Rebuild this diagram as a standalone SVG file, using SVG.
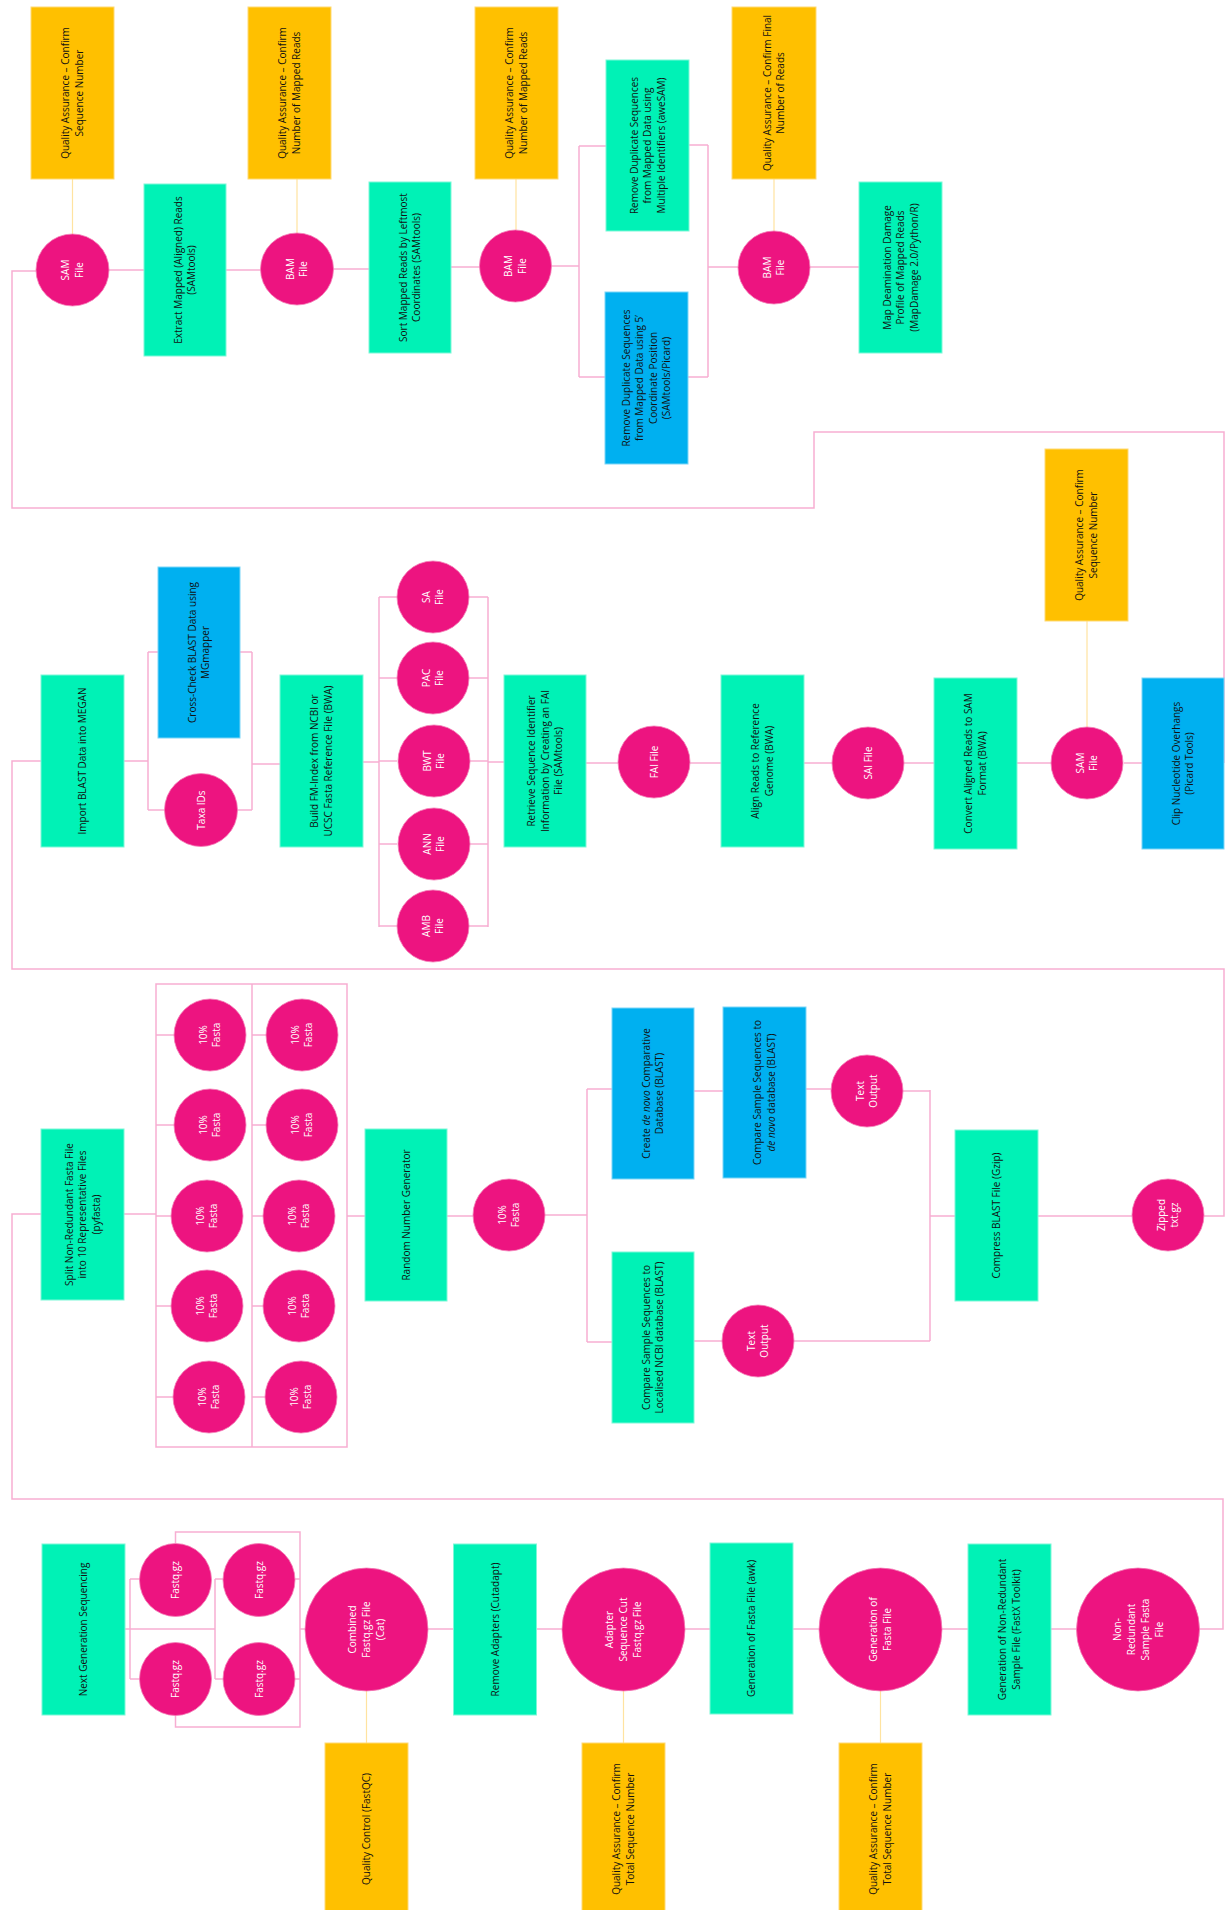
<svg xmlns="http://www.w3.org/2000/svg" width="1226" height="1910" viewBox="0 0 1226 1910">
<style>
.g{fill:#00F2B6;stroke:#7CF8D8;stroke-width:1}
.b{fill:#00B0F0;stroke:#7DD6F7;stroke-width:1}
.y{fill:#FFC000;stroke:#FFDA75;stroke-width:1}
.c{fill:#ED1480;stroke:#F47DB6;stroke-width:0.8}
.t{font-family:"Open Sans","DejaVu Sans",sans-serif;font-size:10px;fill:#111;text-anchor:middle}
.w{font-family:"Open Sans","DejaVu Sans",sans-serif;font-size:10px;fill:#fff;text-anchor:middle}
.p{fill:none;stroke:#F7AED2;stroke-width:1.5}
.q{fill:none;stroke:#FFE3A0;stroke-width:1.2}
</style>
<rect width="1226" height="1910" fill="#fff"/>
<g id="connectors">
<path class="p" d="M1224,763 V432 H814 V508 H12 V271 H36"/>
<path class="p" d="M109,270 H144 M226,270 H261 M333,269 H369 M451,267 H480 M551,266 H579 M579,146 V377 M579,146 H606 M579,377 H605 M689,145 H708 M688,377 H708 M708,145 V377 M708,267 H738 M810,267 H859"/>
<path class="q" d="M72.5,179 V234 M297,179 V233 M516,179 V230 M774,179 V231"/>
<path class="p" d="M41,761 H12 V969 H1224 V1216 H1204"/>
<path class="p" d="M124,761 H148 M148,652 V810 M148,652 H158 M148,810 H165 M240,652 H252 M237,810 H252 M252,652 V810 M252,764 H280 M363,762 H379 M379,597 V927 M379,597 H397 M379,678 H397 M379,761 H397 M379,844 H397 M379,926 H397 M469,597 H488 M469,678 H488 M469,761 H488 M469,844 H488 M469,926 H488 M488,597 V927 M488,762 H504 M586,763 H618 M690,763 H721 M804,763 H832 M904,763 H934 M1017,763 H1051 M1124,763 H1142"/>
<path class="q" d="M1087,621 V727"/>
<path class="p" d="M41,1214 H12 V1499 H1223 V1629 H1199"/>
<path class="p" d="M124,1214 H156 M156,984 H347 V1447 H156 Z M252,984 V1447 M156,1035 H174 M156,1125 H174 M156,1216 H171 M156,1306 H171 M156,1397 H173 M252,1035 H266 M252,1125 H266 M252,1216 H263 M252,1306 H263 M252,1397 H265 M347,1216 H365 M447,1216 H473 M545,1215 H587 M587,1089 V1342 M587,1089 H612 M587,1342 H612 M694,1091 H723 M806,1089 H831 M694,1341 H722 M903,1091 H930 M794,1341 H930 M930,1090 V1341 M930,1216 H955 M1038,1216 H1132"/>
<path class="p" d="M125,1629 H215 M130,1579 V1679 M130,1579 H140 M130,1679 H140 M215,1579 V1679 M215,1579 H223 M215,1679 H223 M175.5,1543 V1532 H300 V1727 H175.5 V1715 M295,1579 H300 M295,1679 H300 M300,1629 H305 M428,1629 H453.5 M536.5,1629 H562 M685,1629 H710 M793,1629 H819 M942,1629 H968 M1051,1629 H1077"/>
<path class="q" d="M366.5,1691 V1743 M623.5,1691 V1743 M880.5,1691 V1743"/>
</g>

<g id="qa1"><rect class="y" x="31" y="7" width="83" height="172"/><text class="t" transform="translate(72.5 93) rotate(-90)"><tspan x="0" dy="-3.25">Quality Assurance – Confirm</tspan><tspan x="0" dy="13.5">Sequence Number</tspan></text></g>
<g id="sam1"><ellipse class="c" cx="72.5" cy="270" rx="36.5" ry="36"/><text class="w" transform="translate(72.5 270) rotate(-90)"><tspan x="0" dy="-3.25">SAM</tspan><tspan x="0" dy="13.5">File</tspan></text></g>
<g id="extract"><rect class="g" x="144" y="184" width="82" height="172"/><text class="t" transform="translate(185 270) rotate(-90)"><tspan x="0" dy="-3.25">Extract Mapped (Aligned) Reads</tspan><tspan x="0" dy="13.5">(SAMtools)</tspan></text></g>
<g id="qa2"><rect class="y" x="248" y="7" width="83" height="172"/><text class="t" transform="translate(289.5 93) rotate(-90)"><tspan x="0" dy="-3.25">Quality Assurance – Confirm</tspan><tspan x="0" dy="13.5">Number of Mapped Reads</tspan></text></g>
<g id="bam2"><ellipse class="c" cx="297" cy="269" rx="36.5" ry="36"/><text class="w" transform="translate(297 269) rotate(-90)"><tspan x="0" dy="-3.25">BAM</tspan><tspan x="0" dy="13.5">File</tspan></text></g>
<g id="sort"><rect class="g" x="369" y="182" width="82" height="171"/><text class="t" transform="translate(410 267.5) rotate(-90)"><tspan x="0" dy="-3.25">Sort Mapped Reads by Leftmost</tspan><tspan x="0" dy="13.5">Coordinates (SAMtools)</tspan></text></g>
<g id="qa3"><rect class="y" x="475" y="7" width="83" height="172"/><text class="t" transform="translate(516.5 93) rotate(-90)"><tspan x="0" dy="-3.25">Quality Assurance – Confirm</tspan><tspan x="0" dy="13.5">Number of Mapped Reads</tspan></text></g>
<g id="bam3"><ellipse class="c" cx="515.5" cy="266" rx="36" ry="36"/><text class="w" transform="translate(515.5 266) rotate(-90)"><tspan x="0" dy="-3.25">BAM</tspan><tspan x="0" dy="13.5">File</tspan></text></g>
<g id="remdup1"><rect class="g" x="606" y="60" width="83" height="171"/><text class="t" transform="translate(647.5 145.5) rotate(-90)"><tspan x="0" dy="-10">Remove Duplicate Sequences</tspan><tspan x="0" dy="13.5">from Mapped Data using</tspan><tspan x="0" dy="13.5">Multiple Identifiers (aweSAM)</tspan></text></g>
<g id="remdup2"><rect class="b" x="605" y="292" width="83" height="172"/><text class="t" transform="translate(646.5 378) rotate(-90)"><tspan x="0" dy="-16.75">Remove Duplicate Sequences</tspan><tspan x="0" dy="13.5">from Mapped Data using 5’</tspan><tspan x="0" dy="13.5">Coordinate Position</tspan><tspan x="0" dy="13.5">(SAMtools/Picard)</tspan></text></g>
<g id="qa4"><rect class="y" x="732" y="7" width="84" height="172"/><text class="t" transform="translate(774 93) rotate(-90)"><tspan x="0" dy="-3.25">Quality Assurance – Confirm Final</tspan><tspan x="0" dy="13.5">Number of Reads</tspan></text></g>
<g id="bam4"><ellipse class="c" cx="774" cy="267.5" rx="36" ry="36.5"/><text class="w" transform="translate(774 267.5) rotate(-90)"><tspan x="0" dy="-3.25">BAM</tspan><tspan x="0" dy="13.5">File</tspan></text></g>
<g id="mapdamage"><rect class="g" x="859" y="182" width="83" height="171"/><text class="t" transform="translate(900.5 267.5) rotate(-90)"><tspan x="0" dy="-10">Map Deamination Damage</tspan><tspan x="0" dy="13.5">Profile of Mapped Reads</tspan><tspan x="0" dy="13.5">(MapDamage 2.0/Python/R)</tspan></text></g>

<g id="import"><rect class="g" x="41" y="675" width="83" height="172"/><text class="t" transform="translate(82.5 761) rotate(-90)"><tspan x="0" dy="3.5">Import BLAST Data into MEGAN</tspan></text></g>
<g id="crosscheck"><rect class="b" x="158" y="567" width="82" height="171"/><text class="t" transform="translate(199 652.5) rotate(-90)"><tspan x="0" dy="-3.25">Cross-Check BLAST Data using</tspan><tspan x="0" dy="13.5">MGmapper</tspan></text></g>
<g id="taxa"><ellipse class="c" cx="201" cy="810" rx="36.5" ry="36.5"/><text class="w" transform="translate(201 810) rotate(-90)"><tspan x="0" dy="3.5">Taxa IDs</tspan></text></g>
<g id="buildfm"><rect class="g" x="280" y="675" width="83" height="172"/><text class="t" transform="translate(321.5 761) rotate(-90)"><tspan x="0" dy="-3.25">Build FM-Index from NCBI or</tspan><tspan x="0" dy="13.5">UCSC Fasta Reference File (BWA)</tspan></text></g>
<g id="sa"><ellipse class="c" cx="433" cy="597" rx="36" ry="36"/><text class="w" transform="translate(433 597) rotate(-90)"><tspan x="0" dy="-3.25">SA</tspan><tspan x="0" dy="13.5">File</tspan></text></g>
<g id="pac"><ellipse class="c" cx="433" cy="678" rx="36" ry="36"/><text class="w" transform="translate(433 678) rotate(-90)"><tspan x="0" dy="-3.25">PAC</tspan><tspan x="0" dy="13.5">File</tspan></text></g>
<g id="bwt"><ellipse class="c" cx="434" cy="761" rx="36" ry="36"/><text class="w" transform="translate(434 761) rotate(-90)"><tspan x="0" dy="-3.25">BWT</tspan><tspan x="0" dy="13.5">File</tspan></text></g>
<g id="ann"><ellipse class="c" cx="434" cy="844" rx="36" ry="36"/><text class="w" transform="translate(434 844) rotate(-90)"><tspan x="0" dy="-3.25">ANN</tspan><tspan x="0" dy="13.5">File</tspan></text></g>
<g id="amb"><ellipse class="c" cx="433" cy="926" rx="36" ry="36"/><text class="w" transform="translate(433 926) rotate(-90)"><tspan x="0" dy="-3.25">AMB</tspan><tspan x="0" dy="13.5">File</tspan></text></g>
<g id="retrieve"><rect class="g" x="504" y="675" width="82" height="172"/><text class="t" transform="translate(545 761) rotate(-90)"><tspan x="0" dy="-10">Retrieve Sequence Identifier</tspan><tspan x="0" dy="13.5">Information by Creating an FAI</tspan><tspan x="0" dy="13.5">File (SAMtools)</tspan></text></g>
<g id="fai"><ellipse class="c" cx="654" cy="762" rx="36" ry="36"/><text class="w" transform="translate(654 762) rotate(-90)"><tspan x="0" dy="3.5">FAI File</tspan></text></g>
<g id="align"><rect class="g" x="721" y="675" width="83" height="172"/><text class="t" transform="translate(762.5 761) rotate(-90)"><tspan x="0" dy="-3.25">Align Reads to Reference</tspan><tspan x="0" dy="13.5">Genome (BWA)</tspan></text></g>
<g id="sai"><ellipse class="c" cx="868" cy="763" rx="36" ry="36"/><text class="w" transform="translate(868 763) rotate(-90)"><tspan x="0" dy="3.5">SAI File</tspan></text></g>
<g id="convert"><rect class="g" x="934" y="678" width="83" height="171"/><text class="t" transform="translate(975.5 763.5) rotate(-90)"><tspan x="0" dy="-3.25">Convert Aligned Reads to SAM</tspan><tspan x="0" dy="13.5">Format (BWA)</tspan></text></g>
<g id="sam2"><ellipse class="c" cx="1087" cy="763" rx="36" ry="36"/><text class="w" transform="translate(1087 763) rotate(-90)"><tspan x="0" dy="-3.25">SAM</tspan><tspan x="0" dy="13.5">File</tspan></text></g>
<g id="qa5"><rect class="y" x="1045" y="449" width="83" height="172"/><text class="t" transform="translate(1086.5 535) rotate(-90)"><tspan x="0" dy="-3.25">Quality Assurance – Confirm</tspan><tspan x="0" dy="13.5">Sequence Number</tspan></text></g>
<g id="clip"><rect class="b" x="1142" y="678" width="82" height="171"/><text class="t" transform="translate(1183 763.5) rotate(-90)"><tspan x="0" dy="-3.25">Clip Nucleotide Overhangs</tspan><tspan x="0" dy="13.5">(Picard Tools)</tspan></text></g>

<g id="split"><rect class="g" x="41" y="1129" width="83" height="171"/><text class="t" transform="translate(82.5 1214.5) rotate(-90)"><tspan x="0" dy="-10">Split Non-Redundant Fasta File</tspan><tspan x="0" dy="13.5">into 10 Representative Files</tspan><tspan x="0" dy="13.5">(pyfasta)</tspan></text></g>
<g id="f1"><ellipse class="c" cx="210" cy="1035" rx="36" ry="36"/><text class="w" transform="translate(210 1035) rotate(-90)"><tspan x="0" dy="-3.25">10%</tspan><tspan x="0" dy="13.5">Fasta</tspan></text></g>
<g id="f2"><ellipse class="c" cx="210" cy="1125" rx="36" ry="36"/><text class="w" transform="translate(210 1125) rotate(-90)"><tspan x="0" dy="-3.25">10%</tspan><tspan x="0" dy="13.5">Fasta</tspan></text></g>
<g id="f3"><ellipse class="c" cx="207" cy="1216" rx="36" ry="36"/><text class="w" transform="translate(207 1216) rotate(-90)"><tspan x="0" dy="-3.25">10%</tspan><tspan x="0" dy="13.5">Fasta</tspan></text></g>
<g id="f4"><ellipse class="c" cx="207" cy="1306" rx="36" ry="36"/><text class="w" transform="translate(207 1306) rotate(-90)"><tspan x="0" dy="-3.25">10%</tspan><tspan x="0" dy="13.5">Fasta</tspan></text></g>
<g id="f5"><ellipse class="c" cx="209" cy="1397" rx="36" ry="36"/><text class="w" transform="translate(209 1397) rotate(-90)"><tspan x="0" dy="-3.25">10%</tspan><tspan x="0" dy="13.5">Fasta</tspan></text></g>
<g id="f6"><ellipse class="c" cx="302" cy="1035" rx="36" ry="36"/><text class="w" transform="translate(302 1035) rotate(-90)"><tspan x="0" dy="-3.25">10%</tspan><tspan x="0" dy="13.5">Fasta</tspan></text></g>
<g id="f7"><ellipse class="c" cx="302" cy="1125" rx="36" ry="36"/><text class="w" transform="translate(302 1125) rotate(-90)"><tspan x="0" dy="-3.25">10%</tspan><tspan x="0" dy="13.5">Fasta</tspan></text></g>
<g id="f8"><ellipse class="c" cx="299" cy="1216" rx="36" ry="36"/><text class="w" transform="translate(299 1216) rotate(-90)"><tspan x="0" dy="-3.25">10%</tspan><tspan x="0" dy="13.5">Fasta</tspan></text></g>
<g id="f9"><ellipse class="c" cx="299" cy="1306" rx="36" ry="36"/><text class="w" transform="translate(299 1306) rotate(-90)"><tspan x="0" dy="-3.25">10%</tspan><tspan x="0" dy="13.5">Fasta</tspan></text></g>
<g id="f10"><ellipse class="c" cx="301" cy="1397" rx="36" ry="36"/><text class="w" transform="translate(301 1397) rotate(-90)"><tspan x="0" dy="-3.25">10%</tspan><tspan x="0" dy="13.5">Fasta</tspan></text></g>
<g id="rng"><rect class="g" x="365" y="1129" width="82" height="172"/><text class="t" transform="translate(406 1215) rotate(-90)"><tspan x="0" dy="3.5">Random Number Generator</tspan></text></g>
<g id="fsel"><ellipse class="c" cx="509" cy="1215" rx="36" ry="36"/><text class="w" transform="translate(509 1215) rotate(-90)"><tspan x="0" dy="-3.25">10%</tspan><tspan x="0" dy="13.5">Fasta</tspan></text></g>
<g id="createdb"><rect class="b" x="612" y="1008" width="82" height="171"/><text class="t" transform="translate(653 1093.5) rotate(-90)"><tspan x="0" dy="-3.25">Create <tspan font-style="italic">de novo</tspan> Comparative</tspan><tspan x="0" dy="13.5">Database (BLAST)</tspan></text></g>
<g id="comparedn"><rect class="b" x="723" y="1007" width="83" height="171"/><text class="t" transform="translate(764.5 1092.5) rotate(-90)"><tspan x="0" dy="-3.25">Compare Sample Sequences to</tspan><tspan x="0" dy="13.5"><tspan font-style="italic">de novo</tspan> database (BLAST)</tspan></text></g>
<g id="textout1"><ellipse class="c" cx="867" cy="1091" rx="36" ry="36"/><text class="w" transform="translate(867 1091) rotate(-90)"><tspan x="0" dy="-3.25">Text</tspan><tspan x="0" dy="13.5">Output</tspan></text></g>
<g id="comparencbi"><rect class="g" x="612" y="1252" width="82" height="171"/><text class="t" transform="translate(653 1337.5) rotate(-90)"><tspan x="0" dy="-3.25">Compare Sample Sequences to</tspan><tspan x="0" dy="13.5">Localised NCBI database (BLAST)</tspan></text></g>
<g id="textout2"><ellipse class="c" cx="758" cy="1341" rx="36" ry="36"/><text class="w" transform="translate(758 1341) rotate(-90)"><tspan x="0" dy="-3.25">Text</tspan><tspan x="0" dy="13.5">Output</tspan></text></g>
<g id="compress"><rect class="g" x="955" y="1130" width="83" height="171"/><text class="t" transform="translate(996.5 1215.5) rotate(-90)"><tspan x="0" dy="3.5">Compress BLAST File (Gzip)</tspan></text></g>
<g id="zipped"><ellipse class="c" cx="1168" cy="1215" rx="36" ry="36"/><text class="w" transform="translate(1168 1215) rotate(-90)"><tspan x="0" dy="-3.25">Zipped</tspan><tspan x="0" dy="13.5">txt.gz</tspan></text></g>

<g id="ngs"><rect class="g" x="42" y="1544" width="83" height="171"/><text class="t" transform="translate(83.5 1629.5) rotate(-90)"><tspan x="0" dy="3.5">Next Generation Sequencing</tspan></text></g>
<g id="fq1"><ellipse class="c" cx="175.5" cy="1580" rx="36" ry="36.5"/><text class="w" transform="translate(175.5 1580) rotate(-90)"><tspan x="0" dy="3.5">Fastq.gz</tspan></text></g>
<g id="fq2"><ellipse class="c" cx="175.5" cy="1679" rx="36" ry="36.5"/><text class="w" transform="translate(175.5 1679) rotate(-90)"><tspan x="0" dy="3.5">Fastq.gz</tspan></text></g>
<g id="fq3"><ellipse class="c" cx="259" cy="1580" rx="36" ry="36.5"/><text class="w" transform="translate(259 1580) rotate(-90)"><tspan x="0" dy="3.5">Fastq.gz</tspan></text></g>
<g id="fq4"><ellipse class="c" cx="259" cy="1679" rx="36" ry="36.5"/><text class="w" transform="translate(259 1679) rotate(-90)"><tspan x="0" dy="3.5">Fastq.gz</tspan></text></g>
<g id="combined"><ellipse class="c" cx="366.5" cy="1629.5" rx="61.5" ry="61.5"/><text class="w" transform="translate(366.5 1629.5) rotate(-90)"><tspan x="0" dy="-10.5">Combined</tspan><tspan x="0" dy="14">Fastq.gz File</tspan><tspan x="0" dy="14">(Cat)</tspan></text></g>
<g id="qc"><rect class="y" x="325" y="1743" width="83" height="172"/><text class="t" transform="translate(366.5 1829) rotate(-90)"><tspan x="0" dy="3.5">Quality Control (FastQC)</tspan></text></g>
<g id="cutadapt"><rect class="g" x="453.5" y="1544" width="83" height="171"/><text class="t" transform="translate(495 1629.5) rotate(-90)"><tspan x="0" dy="3.5">Remove Adapters (Cutadapt)</tspan></text></g>
<g id="adaptercut"><ellipse class="c" cx="623.5" cy="1629.5" rx="61.5" ry="61.5"/><text class="w" transform="translate(623.5 1629.5) rotate(-90)"><tspan x="0" dy="-10.5">Adapter</tspan><tspan x="0" dy="14">Sequence Cut</tspan><tspan x="0" dy="14">Fastq.gz File</tspan></text></g>
<g id="qa6"><rect class="y" x="582" y="1743" width="83" height="172"/><text class="t" transform="translate(623.5 1829) rotate(-90)"><tspan x="0" dy="-3.25">Quality Assurance – Confirm</tspan><tspan x="0" dy="13.5">Total Sequence Number</tspan></text></g>
<g id="awk"><rect class="g" x="710" y="1543" width="83" height="171"/><text class="t" transform="translate(751.5 1628.5) rotate(-90)"><tspan x="0" dy="3.5">Generation of Fasta File (awk)</tspan></text></g>
<g id="genfasta"><ellipse class="c" cx="880.5" cy="1629.5" rx="61.5" ry="61.5"/><text class="w" transform="translate(880.5 1629.5) rotate(-90)"><tspan x="0" dy="-3.5">Generation of</tspan><tspan x="0" dy="14">Fasta File</tspan></text></g>
<g id="qa7"><rect class="y" x="839" y="1743" width="83" height="172"/><text class="t" transform="translate(880.5 1829) rotate(-90)"><tspan x="0" dy="-3.25">Quality Assurance – Confirm</tspan><tspan x="0" dy="13.5">Total Sequence Number</tspan></text></g>
<g id="fastx"><rect class="g" x="968" y="1544" width="83" height="171"/><text class="t" transform="translate(1009.5 1629.5) rotate(-90)"><tspan x="0" dy="-3.25">Generation of Non-Redundant</tspan><tspan x="0" dy="13.5">Sample File (FastX Toolkit)</tspan></text></g>
<g id="nonredundant"><ellipse class="c" cx="1138" cy="1629.5" rx="61.5" ry="61.5"/><text class="w" transform="translate(1138 1629.5) rotate(-90)"><tspan x="0" dy="-17.5">Non-</tspan><tspan x="0" dy="14">Redundant</tspan><tspan x="0" dy="14">Sample Fasta</tspan><tspan x="0" dy="14">File</tspan></text></g>
</svg>
